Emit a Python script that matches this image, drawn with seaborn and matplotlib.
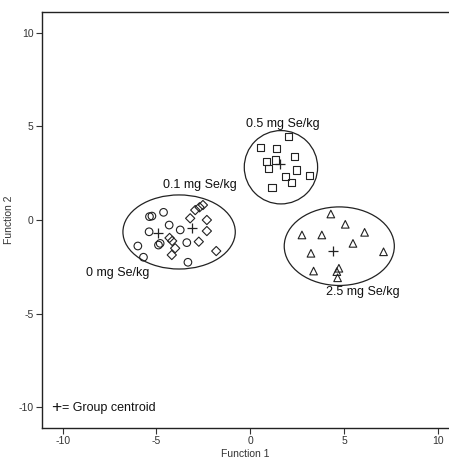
import numpy as np
import pandas as pd
import matplotlib
matplotlib.use('Agg')
import matplotlib.pyplot as plt
from matplotlib.patches import Ellipse
import seaborn as sns

# Discriminant scores per selenium group (Function 1, Function 2)
se0_x = [-5.99, -5.69, -5.37, -5.24, -4.62, -5.39, -4.32, -3.73, -4.89, -4.80, -3.38, -3.32]
se0_y = [-1.39, -1.99, 0.18, 0.21, 0.41, -0.63, -0.27, -0.53, -1.34, -1.25, -1.21, -2.26]

se01_x = [-2.93, -2.70, -2.52, -3.20, -2.31, -2.31, -2.74, -1.81, -4.30, -4.16, -4.00, -4.18]
se01_y = [0.53, 0.68, 0.80, 0.09, 0.00, -0.59, -1.16, -1.66, -0.96, -1.12, -1.51, -1.87]

se05_x = [2.04, 0.57, 1.39, 2.36, 0.85, 1.33, 0.98, 2.49, 1.87, 2.22, 3.16, 1.16]
se05_y = [4.45, 3.87, 3.83, 3.39, 3.12, 3.21, 2.76, 2.67, 2.32, 2.01, 2.37, 1.75]

se25_x = [4.30, 5.07, 2.76, 3.82, 6.10, 5.48, 3.24, 7.11, 3.38, 4.73, 4.62, 4.66]
se25_y = [0.32, -0.23, -0.80, -0.80, -0.66, -1.25, -1.78, -1.70, -2.73, -2.58, -2.76, -3.09]

groups = ['0 mg Se/kg', '0.1 mg Se/kg', '0.5 mg Se/kg', '2.5 mg Se/kg']
centroid_x = [-4.94, -3.09, 1.60, 4.44]
centroid_y = [-0.71, -0.43, 2.99, -1.64]

# group regions drawn around the clusters
region_cx = [-3.79, 1.64, 4.75]
region_cy = [-0.64, 2.82, -1.40]
region_w = [5.99, 3.91, 5.87]
region_h = [3.96, 3.92, 4.20]

# group label anchors
label_x = [-7.04, -2.67, 1.76, 6.03]
label_y = [-2.83, 1.87, 5.13, -3.85]

df = pd.DataFrame({
    'f1': se0_x + se01_x + se05_x + se25_x,
    'f2': se0_y + se01_y + se05_y + se25_y,
    'group': [groups[0]] * len(se0_x) + [groups[1]] * len(se01_x)
             + [groups[2]] * len(se05_x) + [groups[3]] * len(se25_x),
})

sns.set_theme(style='white')
plt.rcParams['font.family'] = ['Liberation Sans', 'DejaVu Sans']
plt.rcParams['axes.unicode_minus'] = False

fig = plt.figure(figsize=(4.49, 4.61), dpi=100)
ax = fig.add_axes([42 / 449, 33 / 461, 407 / 449, 416 / 461])

markers = {groups[0]: 'o', groups[1]: 'D', groups[2]: 's', groups[3]: '^'}
sizes = {groups[0]: 30, groups[1]: 22, groups[2]: 27, groups[3]: 30}
for g in groups:
    sub = df[df['group'] == g]
    sns.scatterplot(data=sub, x='f1', y='f2', marker=markers[g], s=sizes[g],
                    facecolor='none', edgecolor='#222222', linewidth=0.8, ax=ax)

# group centroids
sns.scatterplot(x=centroid_x, y=centroid_y, marker='+', s=55, color='#222222',
                linewidth=0.9, ax=ax)

for cx, cy, w, h in zip(region_cx, region_cy, region_w, region_h):
    ax.add_patch(Ellipse((cx, cy), w, h, fill=False, edgecolor='#222222', linewidth=0.9))

for lbl, lx, ly in zip(groups, label_x, label_y):
    ax.text(lx, ly, lbl, ha='center', va='center', fontsize=9, color='#111111')

ax.text(-10.6, -10.05, '+', ha='left', va='center', fontsize=12.5, color='#111111')
ax.text(-10.05, -10.05, '= Group centroid', ha='left', va='center', fontsize=9, color='#111111')

ax.set_xlim(-11.1, 10.6)
ax.set_ylim(-11.12, 11.12)
ax.set_xticks([-10, -5, 0, 5, 10])
ax.set_yticks([-10, -5, 0, 5, 10])
ax.set_xlabel('Function 1', fontsize=7.5, color='#333333', labelpad=2)
ax.set_ylabel('Function 2', fontsize=7.5, color='#333333', labelpad=3)
ax.tick_params(axis='both', direction='out', length=4, width=0.8, labelsize=7.5,
               colors='#333333', bottom=True, left=True, pad=2)
for side in ['left', 'bottom', 'top']:
    ax.spines[side].set_color('#222222')
    ax.spines[side].set_linewidth(1.0)
ax.spines['right'].set_visible(False)
ax.grid(False)

fig.savefig('out.png', dpi=100)
